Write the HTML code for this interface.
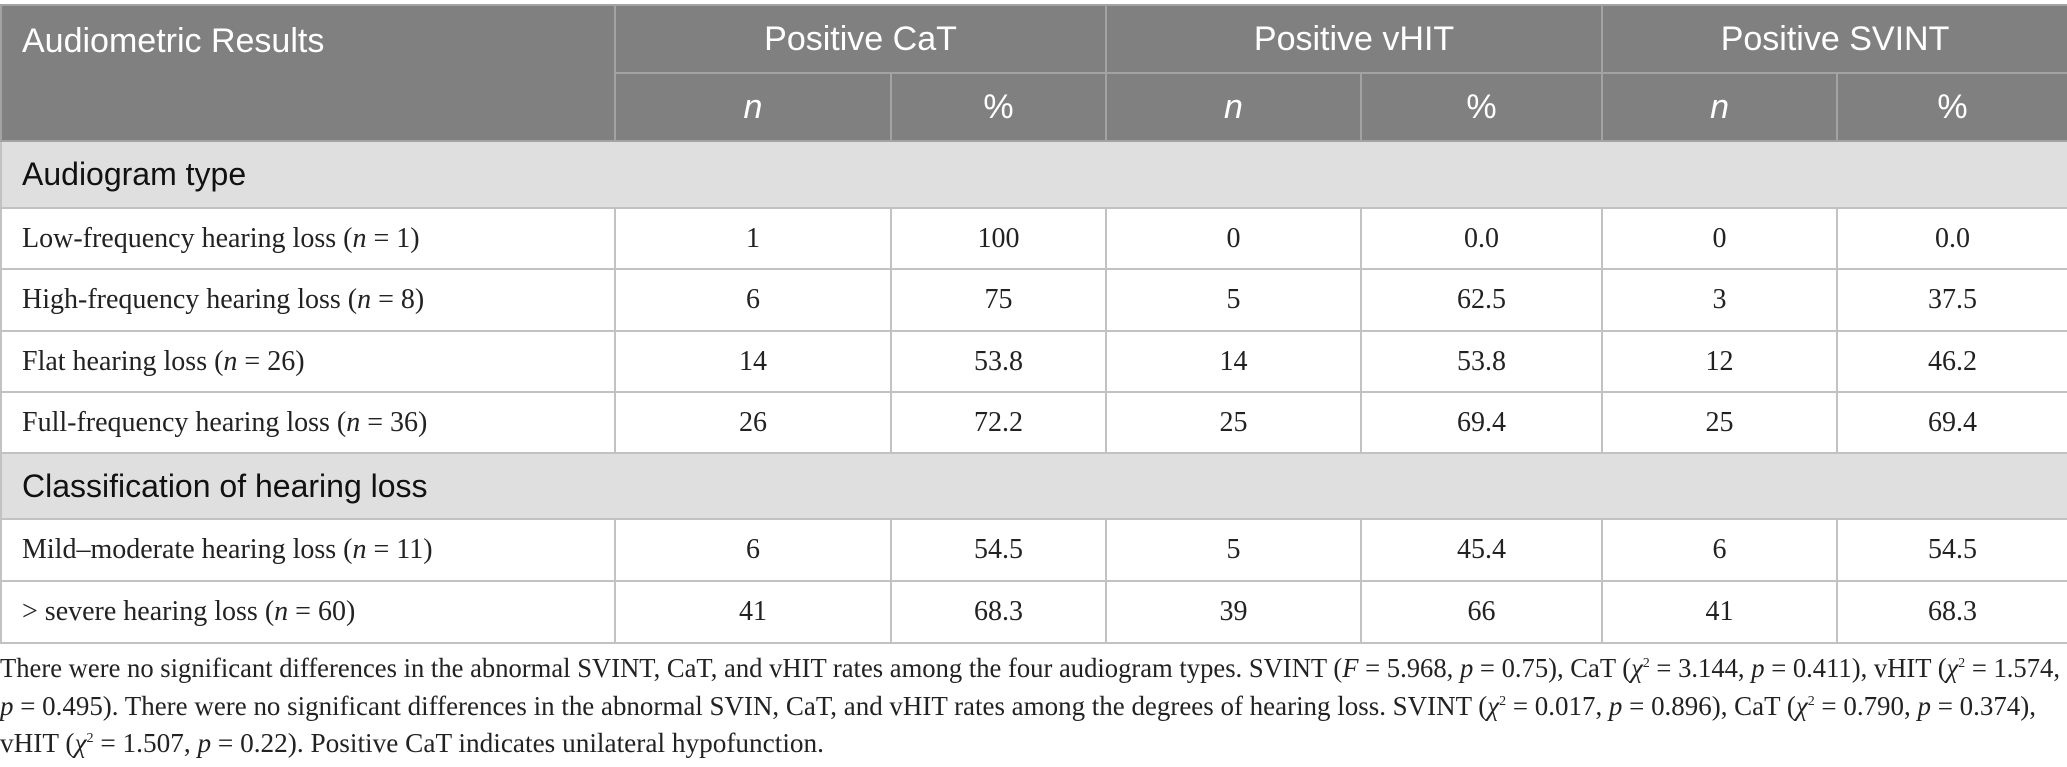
<!DOCTYPE html>
<html><head><meta charset="utf-8">
<style>
html,body{margin:0;padding:0;background:#fff;width:2067px;height:767px;overflow:hidden}
table{position:absolute;left:0;top:4px;border-collapse:collapse;table-layout:fixed;width:2067px}
td,th{padding:0;border:2px solid #c2c2c2;overflow:hidden;white-space:nowrap}
th{background:#7f807f;color:#fff;font-family:"Liberation Sans",sans-serif;font-weight:normal;font-size:34px;border-color:#a3a3a3}
th.l{text-align:left;padding-left:20px;vertical-align:top;padding-top:16px}
.sec td{background:#e0dfe0;font-family:"Liberation Sans",sans-serif;font-size:32px;color:#111;padding-left:20px}
.d td{font-family:"Liberation Serif",serif;font-size:28px;color:#222;text-align:center}
.d td:first-child{text-align:left;padding-left:20px}
.fn{position:absolute;left:0;font-family:"Liberation Serif",serif;font-size:27px;color:#222;white-space:nowrap;transform-origin:0 0}
</style></head><body>
<table>
<colgroup><col style="width:614px"><col style="width:276px"><col style="width:215px"><col style="width:255px"><col style="width:241px"><col style="width:235px"><col style="width:231px"></colgroup>
<tr style="height:68px">
<th class="l" rowspan="2">Audiometric Results</th>
<th colspan="2">Positive CaT</th>
<th colspan="2">Positive vHIT</th>
<th colspan="2">Positive SVINT</th></tr>
<tr style="height:68px">
<th><i>n</i></th><th>%</th>
<th><i>n</i></th><th>%</th>
<th><i>n</i></th><th>%</th></tr>
<tr class="sec" style="height:67px"><td colspan="7">Audiogram type</td></tr>
<tr class="d" style="height:61px"><td>Low-frequency hearing loss (<i>n</i> = 1)</td><td>1</td><td>100</td><td>0</td><td>0.0</td><td>0</td><td>0.0</td></tr>
<tr class="d" style="height:62px"><td>High-frequency hearing loss (<i>n</i> = 8)</td><td>6</td><td>75</td><td>5</td><td>62.5</td><td>3</td><td>37.5</td></tr>
<tr class="d" style="height:61px"><td>Flat hearing loss (<i>n</i> = 26)</td><td>14</td><td>53.8</td><td>14</td><td>53.8</td><td>12</td><td>46.2</td></tr>
<tr class="d" style="height:61px"><td>Full-frequency hearing loss (<i>n</i> = 36)</td><td>26</td><td>72.2</td><td>25</td><td>69.4</td><td>25</td><td>69.4</td></tr>
<tr class="sec" style="height:66px"><td colspan="7">Classification of hearing loss</td></tr>
<tr class="d" style="height:62px"><td>Mild–moderate hearing loss (<i>n</i> = 11)</td><td>6</td><td>54.5</td><td>5</td><td>45.4</td><td>6</td><td>54.5</td></tr>
<tr class="d" style="height:62px"><td>&gt; severe hearing loss (<i>n</i> = 60)</td><td>41</td><td>68.3</td><td>39</td><td>66</td><td>41</td><td>68.3</td></tr>
</table>
<div class="fn" id="f1" data-w="2060" style="top:653px">There were no significant differences in the abnormal SVINT, CaT, and vHIT rates among the four audiogram types. SVINT (<i>F</i> = 5.968, <i>p</i> = 0.75), CaT (<i>χ</i><sup style="font-size:14px">2</sup> = 3.144, <i>p</i> = 0.411), vHIT (<i>χ</i><sup style="font-size:14px">2</sup> = 1.574,</div>
<div class="fn" id="f2" data-w="2036" style="top:691px"><i>p</i> = 0.495). There were no significant differences in the abnormal SVIN, CaT, and vHIT rates among the degrees of hearing loss. SVINT (<i>χ</i><sup style="font-size:14px">2</sup> = 0.017, <i>p</i> = 0.896), CaT (<i>χ</i><sup style="font-size:14px">2</sup> = 0.790, <i>p</i> = 0.374),</div>
<div class="fn" id="f3" data-w="824" style="top:728px">vHIT (<i>χ</i><sup style="font-size:14px">2</sup> = 1.507, <i>p</i> = 0.22). Positive CaT indicates unilateral hypofunction.</div>
<script>
document.querySelectorAll('.fn').forEach(function(e){
  var w=e.getBoundingClientRect().width, t=+e.getAttribute('data-w');
  if(w>0) e.style.transform='scaleX('+(t/w)+')';
});
</script>
</body></html>
